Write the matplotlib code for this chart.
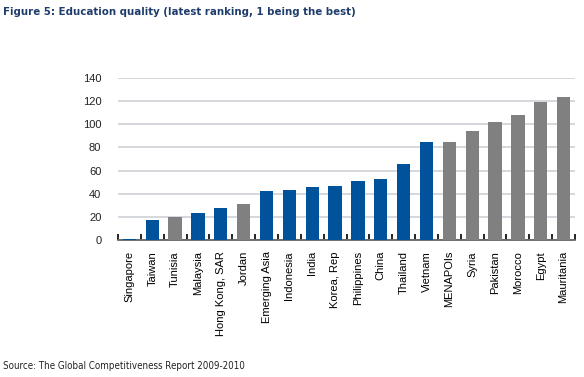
import matplotlib.pyplot as plt
import numpy as np

countries = ['Singapore', 'Taiwan', 'Tunisia', 'Malaysia', 'Hong Kong, SAR', 'Jordan',
             'Emerging Asia', 'Indonesia', 'India', 'Korea, Rep', 'Philippines', 'China',
             'Thailand', 'Vietnam', 'MENAPOIs', 'Syria', 'Pakistan', 'Morocco', 'Egypt',
             'Mauritania']
ranking = [1, 17, 20, 23, 28, 31, 42, 43, 46, 47, 51, 53, 66, 85, 85, 94, 102, 108, 119, 124]
# blue = Asia, grey = MENA
group = ['A', 'A', 'M', 'A', 'A', 'M', 'A', 'A', 'A', 'A', 'A', 'A', 'A', 'A',
         'M', 'M', 'M', 'M', 'M', 'M']

blue = '#00529b'
grey = '#808080'
colors = [blue if g == 'A' else grey for g in group]

fig = plt.figure(figsize=(5.84, 3.77), dpi=100)
ax = fig.add_axes([118 / 584, 1 - 240 / 377, 457 / 584, 162 / 377])

x = np.arange(len(countries))
ax.bar(x, ranking, width=0.58, color=colors, zorder=3)

ax.set_ylim(0, 140)
ax.set_xlim(-0.5, len(countries) - 0.5)
ax.set_yticks(range(0, 141, 20))
ax.yaxis.grid(True, color='#cdd2d8', linewidth=1.2, zorder=0)
ax.tick_params(axis='y', length=0, labelsize=8, colors='#222222', pad=12)

ax.set_xticks(x)
ax.set_xticklabels(countries, rotation=90, fontsize=8, family=['Liberation Sans', 'DejaVu Sans'])
ax.tick_params(axis='x', length=0, pad=8)
# little ticks between categories
ax.set_xticks(np.arange(-0.5, len(countries)), minor=True)
ax.tick_params(axis='x', which='minor', direction='in', length=4, width=1.2, color='black')

for s in ['top', 'right', 'left']:
    ax.spines[s].set_visible(False)
ax.spines['bottom'].set_color('#555a50')
ax.spines['bottom'].set_linewidth(1.2)

for lab in ax.get_yticklabels():
    lab.set_family(['Liberation Sans', 'DejaVu Sans'])

fig.text(3 / 584, 1 - 12 / 377, 'Figure 5: Education quality (latest ranking, 1 being the best)',
         fontsize=8.2, fontweight='bold', color='#1f3d6b', family='DejaVu Sans',
         stretch='condensed', va='center', ha='left')
fig.text(3 / 584, 1 - 366 / 377, 'Source: The Global Competitiveness Report 2009-2010',
         fontsize=7, color='#222222', family='DejaVu Sans', stretch='condensed',
         va='center', ha='left')

fig.savefig('out.png', dpi=100)
